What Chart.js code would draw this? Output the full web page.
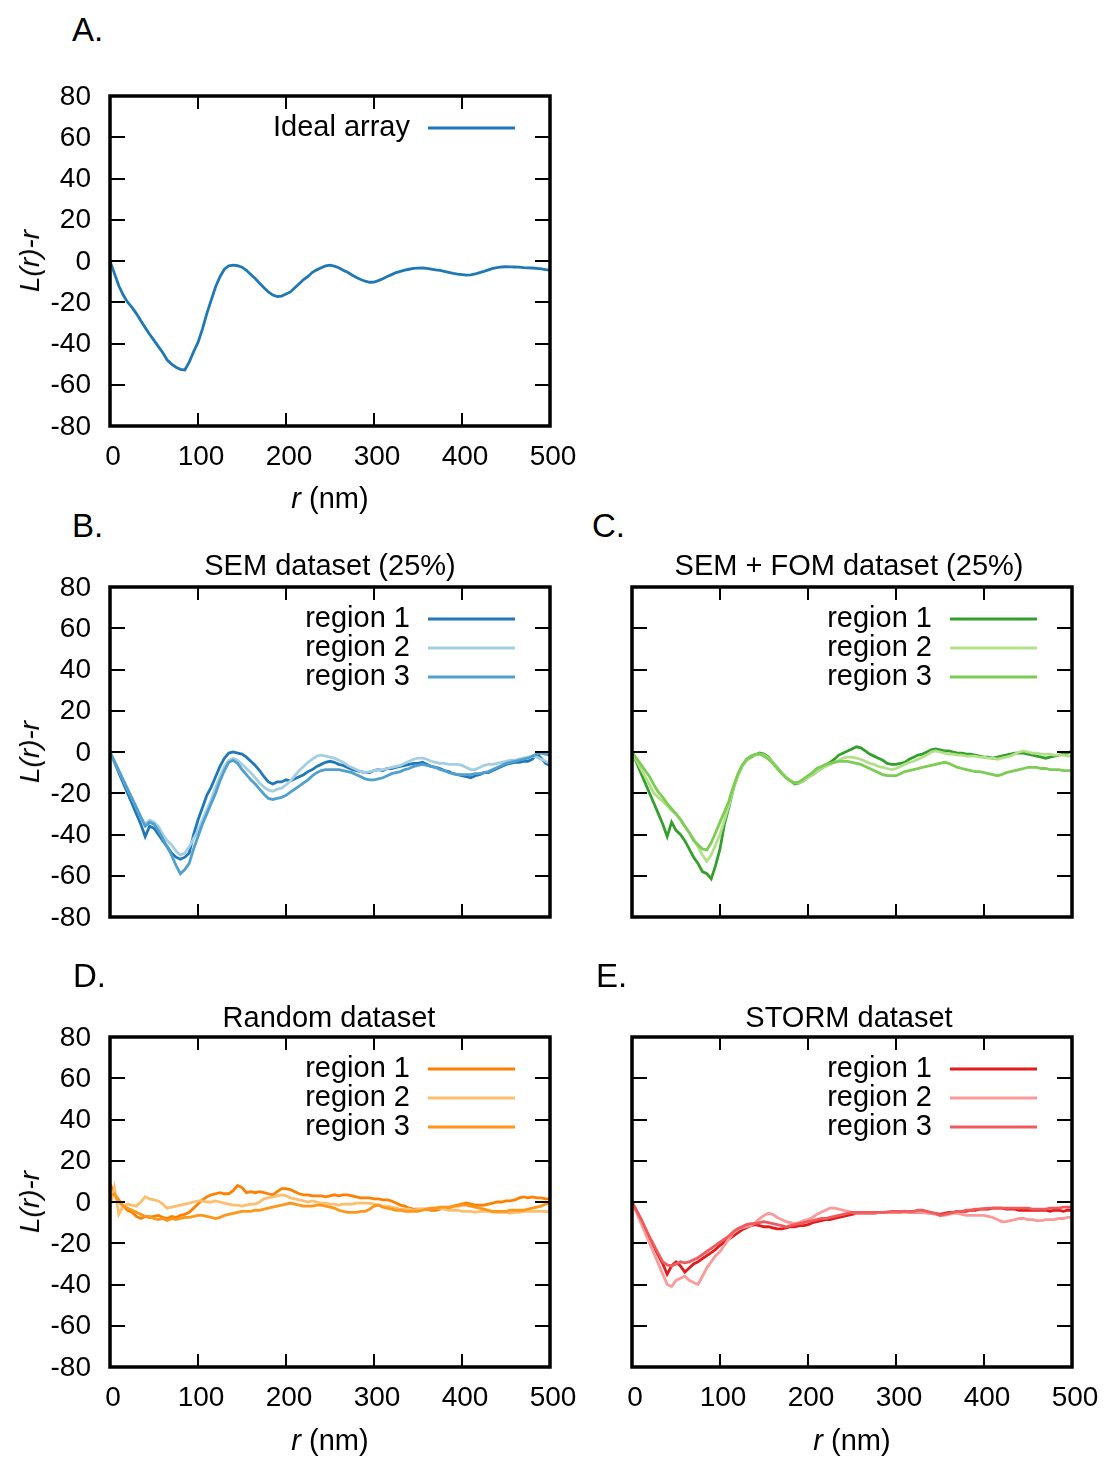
<!DOCTYPE html>
<html>
<head>
<meta charset="utf-8">
<title>L(r)-r</title>
<script src="https://cdn.jsdelivr.net/npm/chart.js@4.4.0/dist/chart.umd.min.js"></script>
<style>
    body {
        margin: 0;
        background: #fff;
        width: 1104px;
        height: 1457px;
        position: relative;
        overflow: hidden;
        font-family: 'Liberation Sans', Arial, sans-serif;
        color: #000;
    }
    .panel { position: absolute; width: 580px; height: 410px; }
    .panel canvas { display: block; }
    .txt {
        position: absolute;
        transform: translate(-50%, -50%);
        white-space: nowrap;
        font-size: 29px;
        line-height: 1;
    }
    .letter {
        position: absolute;
        transform: translateY(-50%);
        font-size: 33px;
        line-height: 1;
    }
    .ylab { transform: translate(-50%, -50%) rotate(-90deg); font-style: italic; font-size: 28px; }
</style>
</head>
<body>

<div class="panel" style="left:0;top:76px"><canvas id="chartA" width="580" height="410"></canvas></div>
<div class="panel" style="left:0;top:567px"><canvas id="chartB" width="580" height="410"></canvas></div>
<div class="panel" style="left:522px;top:567px"><canvas id="chartC" width="580" height="410"></canvas></div>
<div class="panel" style="left:0;top:1017px"><canvas id="chartD" width="580" height="410"></canvas></div>
<div class="panel" style="left:522px;top:1017px"><canvas id="chartE" width="580" height="410"></canvas></div>

<div class="letter" style="left:72px;top:29px">A.</div>
<div class="letter" style="left:72px;top:525px">B.</div>
<div class="letter" style="left:592px;top:525px">C.</div>
<div class="letter" style="left:73px;top:975px">D.</div>
<div class="letter" style="left:596px;top:975px">E.</div>

<div class="txt" style="left:330px;top:565px">SEM dataset (25%)</div>
<div class="txt" style="left:849px;top:565px">SEM + FOM dataset (25%)</div>
<div class="txt" style="left:329px;top:1017px">Random dataset</div>
<div class="txt" style="left:849px;top:1017px">STORM dataset</div>

<div class="txt ylab" style="left:30px;top:261px">L(r)-r</div>
<div class="txt ylab" style="left:30px;top:752px">L(r)-r</div>
<div class="txt ylab" style="left:30px;top:1202px">L(r)-r</div>

<div class="txt" style="left:330px;top:498px"><i>r</i> (nm)</div>
<div class="txt" style="left:330px;top:1440px"><i>r</i> (nm)</div>
<div class="txt" style="left:852px;top:1440px"><i>r</i> (nm)</div>

<script>
// distance r (nm), shared by every curve
const rValues = [
    0, 5, 10, 15, 20, 25, 30, 35, 40, 45,
    50, 55, 60, 65, 70, 75, 80, 85, 90, 95,
    100, 105, 110, 115, 120, 125, 130, 135, 140, 145,
    150, 155, 160, 165, 170, 175, 180, 185, 190, 195,
    200, 205, 210, 215, 220, 225, 230, 235, 240, 245,
    250, 255, 260, 265, 270, 275, 280, 285, 290, 295,
    300, 305, 310, 315, 320, 325, 330, 335, 340, 345,
    350, 355, 360, 365, 370, 375, 380, 385, 390, 395,
    400, 405, 410, 415, 420, 425, 430, 435, 440, 445,
    450, 455, 460, 465, 470, 475, 480, 485, 490, 495,
    500
];

const idealArray = [
    0, -6, -12, -16.5, -20, -22.5, -25.5, -29, -32.3, -35.5,
    -38.5, -41.5, -44.5, -48, -50, -51.5, -52.5, -52.8, -49, -44,
    -39.5, -33, -25.5, -19, -12.5, -7.6, -4, -2.3, -2, -2.3,
    -3, -4.5, -6.5, -8.5, -10.8, -13, -15, -16.5, -17.3, -17,
    -16, -15, -13, -11, -9, -7.5, -5.5, -4.3, -3.3, -2.4,
    -2, -2.5, -3.3, -4.5, -5.5, -6.8, -8, -9, -9.8, -10.3,
    -10.2, -9.5, -8.6, -7.5, -6.6, -5.6, -5, -4.4, -4, -3.6,
    -3.5, -3.4, -3.6, -3.9, -4.3, -4.6, -5, -5.5, -6, -6.4,
    -6.6, -6.8, -6.7, -6.3, -5.6, -5, -4.3, -3.6, -3.2, -2.9,
    -2.7, -2.8, -2.9, -3, -3.2, -3.3, -3.4, -3.6, -3.8, -4.2,
    -4.4
];

// SEM dataset (25%)
const semRegion1 = [
    0, -5, -10, -15, -20, -25, -30, -35, -41, -36,
    -37, -40, -43, -46, -49, -51, -52, -51, -49, -40,
    -33, -27, -21, -17, -12, -7, -3, -0.5, 0, -0.5,
    -1, -2.5, -4.5, -6.5, -9, -12, -14.5, -15.5, -14.5, -14.5,
    -13.5, -14, -13, -12, -11, -9.5, -8.5, -7, -6, -5,
    -4.5, -5, -6, -6.5, -7.5, -8.5, -9, -9.5, -10, -10,
    -9, -8.5, -9, -8, -8, -7.5, -7, -6.5, -6, -5.5,
    -5.5, -5, -6, -7, -7.5, -8, -9, -9.5, -10.5, -11,
    -11.5, -12, -12.5, -11.5, -11, -10, -10, -9, -8, -7,
    -6, -5.5, -5, -5, -4.5, -4.5, -3.5, -1, -3, -5.5,
    -6.5
];
const semRegion2 = [
    0, -4.5, -9, -13.5, -18, -22.5, -27, -31.5, -35, -33,
    -34, -36, -40, -43, -45, -48, -50, -49, -46, -42,
    -38, -33, -28, -23, -17, -12, -7, -4, -3, -4,
    -6, -8, -10, -12.5, -15, -17, -18.5, -19, -18, -17.5,
    -16, -14, -11.5, -9, -7, -5, -3.5, -2, -1.5, -2,
    -2.5, -3, -4, -5, -6.5, -7.5, -8.5, -9.5, -10, -9.5,
    -9, -8.5, -8.5, -8, -7.5, -7, -6.5, -5.5, -4.5, -3.5,
    -3, -3, -3.5, -4.5, -5, -5.5, -5.5, -6, -6, -6,
    -6.5, -7.5, -8.5, -8.5, -7.5, -6.5, -6, -6, -5.5, -5,
    -4.5, -4, -4, -3.5, -3, -2.5, -2, -2.5, -3.5, -4.5,
    -5.5
];
const semRegion3 = [
    0, -4.5, -9, -13.5, -18, -22.5, -27, -31.5, -36, -34,
    -35, -38, -42, -46, -50, -55, -59, -57, -54, -47,
    -41, -35, -30, -25, -20, -14, -9, -5, -4, -5.5,
    -8.5, -11, -13.5, -15.5, -18, -20.5, -22.5, -23, -22.5, -22,
    -21, -19.5, -18, -16.5, -15, -13.5, -11.5, -10, -9, -8.5,
    -8.5, -8.5, -8.5, -9, -9.5, -10, -11, -12, -13, -13.5,
    -13.5, -13, -12.5, -11.5, -10.5, -10, -9.5, -8.5, -8, -7,
    -6.5, -6, -6.5, -7, -7.5, -8.5, -9, -10, -10.5, -11,
    -11, -11, -11, -10.5, -10.5, -10, -9.5, -8.5, -7.5, -6.5,
    -5.5, -5, -4.5, -4, -3.5, -3, -2, -1, -0.5, -1,
    -1.5
];

// SEM + FOM dataset (25%)
const fomRegion1 = [
    0, -5, -10, -15, -20, -25, -30, -35, -41, -34,
    -38, -40, -43, -47, -51, -54, -58, -59, -61.5, -55,
    -47, -35, -27, -18, -11.5, -7, -4, -2.5, -1.5, -0.5,
    -1, -2.5, -5, -7.5, -10, -12.5, -14, -15.5, -15, -14,
    -12, -11, -9.5, -8, -6.5, -5, -3.5, -1.5, -0.5, 0.5,
    1.5, 2.5, 2, 0.5, -1, -2, -3, -4, -5.5, -6,
    -6, -5.5, -5, -3.5, -2.5, -1.5, -1, 0, 1, 1.5,
    1, 0.5, 0.5, 0, -0.5, -0.5, -1, -1, -1.5, -2,
    -2.5, -2.5, -3, -2.5, -2, -1.5, -1, -0.5, -0.5, -0.5,
    -1, -1.5, -2, -2.5, -3, -2.5, -2, -1.5, -1, -0.5,
    0.5
];
const fomRegion2 = [
    0, -4, -8, -12, -16, -20, -22, -24, -26, -28.5,
    -30, -33, -36, -39, -42, -46, -50, -53, -50, -45,
    -40, -33, -26, -18, -12, -7, -4, -2, -1.5, -1,
    -1.5, -3, -5, -7.5, -10, -12, -14, -15, -15, -14,
    -12.5, -11, -9.5, -8, -7, -6, -5, -4, -3, -2.5,
    -2.5, -3, -3.5, -4.5, -5.5, -6, -7, -7.5, -8, -8.5,
    -8, -7, -6, -5, -4.5, -3.5, -2.5, -1.5, 0, 0.5,
    0, -0.5, -1, -1, -1.5, -1.5, -2, -2, -2, -2.5,
    -2.5, -3, -3, -3.5, -3, -2.5, -2, -1, 0, 0.5,
    0, -0.5, -0.5, -1, -1, -1, -1.5, -1.5, -1.5, -2,
    -2
];
const fomRegion3 = [
    0, -3, -6, -9, -12, -16, -19.5, -22, -25, -27.5,
    -30, -32.5, -36, -39, -43, -45, -47, -47.5, -44, -39,
    -34, -29, -24, -17, -11, -6.5, -3.5, -2, -1, -1,
    -2, -3.5, -5.5, -8, -10.5, -12.5, -14, -15, -14.5, -13,
    -11.5, -10, -8, -7, -6, -5.5, -5, -4.5, -4.5, -4.5,
    -5, -5.5, -6, -7, -8, -9, -10, -11, -11.5, -11.5,
    -11.5, -10.5, -9.5, -9, -8.5, -8, -7.5, -7, -6.5, -6,
    -5.5, -5, -5.5, -6.5, -7.5, -8, -8.5, -9, -9.5, -9.5,
    -10, -10.5, -11, -11.5, -11, -10, -9.5, -9, -8.5, -8,
    -7.5, -7.5, -7.5, -8, -8, -8.5, -8.5, -8.5, -9, -9,
    -9
];

// Random dataset
const randomRegion1 = [
    9, 4, 1, -2, -4, -5, -7, -8, -7, -7.5,
    -7, -6.5, -7.5, -8, -7, -7.5, -6.5, -6, -5, -3,
    -1, 1, 2.5, 3.5, 4, 4.5, 4, 4, 5.5, 8,
    7, 4.5, 5, 4.5, 5, 4.5, 4, 3.5, 5, 6.5,
    6.5, 6, 5, 4, 3.5, 3.5, 3, 3, 3, 2.5,
    3, 3.5, 3, 3.5, 3.5, 3, 2.5, 2, 2, 2,
    1.5, 1.5, 1, 1, 0.5, -0.5, -1.5, -2, -3, -3.5,
    -3.5, -3.5, -3.5, -4, -4, -3.5, -3, -3, -2, -1.5,
    -1, -0.5, -1, -1.5, -1.5, -1.5, -1, -0.5, 0, 0,
    0.5, 0.5, 1, 2, 2.5, 2, 2.5, 2, 2, 1.5,
    1.5
];
const randomRegion2 = [
    -3, 7, -6, -2, -1, -1.5, -2, 0, 2.5, 1.5,
    1, 0.5, -1, -3, -2.5, -2, -1.5, -1, -0.5, 0,
    0.5, 0.5, 0, 0, 0.5, 0, -0.5, -1, -1.5, -1.5,
    -2, -1.5, -1, -1, 0, 1.5, 2, 2.5, 3, 3.5,
    3, 2, 1.5, 1, 0.5, 0, 0.5, 0, -0.5, -0.5,
    -1, -1, -1.5, -1, -1, -1, -0.5, -0.5, -0.5, -0.5,
    -1, -1.5, -2, -2, -2.5, -3, -3.5, -3.5, -3.5, -4,
    -3.5, -3.5, -3.5, -3, -3, -3, -3.5, -4, -4, -4,
    -4.5, -4.5, -4.5, -5, -4.5, -4.5, -4.5, -5, -5, -5,
    -5, -5.5, -5, -5, -4.5, -4.5, -4.5, -4.5, -4.5, -4.5,
    -5
];
const randomRegion3 = [
    3, 4, 0, -2, -3, -4, -5, -6, -7, -7,
    -8, -8.5, -8, -9, -8, -8.5, -8, -7.5, -7.5, -7,
    -6.5, -6.5, -7, -7.5, -8, -7.5, -6.5, -6, -5.5, -5,
    -4.5, -4.5, -4.5, -4, -4, -3.5, -3, -2.5, -2, -1.5,
    -1, -0.5, -1, -1.5, -2, -2, -2, -1.5, -1.5, -2,
    -2.5, -3, -4, -4.5, -5, -5, -5, -4.5, -4.5, -3.5,
    -2, -1.5, -2.5, -3, -3.5, -4, -4, -4.5, -4.5, -4.5,
    -4.5, -4, -3.5, -3, -3, -2.5, -2.5, -2.5, -2, -2,
    -1.5, -1.5, -2, -2.5, -3, -3.5, -4, -4.5, -4.5, -4.5,
    -4.5, -4, -4, -4, -4, -3.5, -3, -2.5, -2, -1,
    -0.5
];

// STORM dataset
const stormRegion1 = [
    0, -4.3, -8.6, -13, -17.3, -21.6, -26, -30, -35, -31,
    -29, -31, -34, -32, -30, -29, -27.5, -26, -24.5, -23,
    -21, -19.5, -18, -16.5, -15, -13.5, -12.5, -11.5, -11, -11.5,
    -12, -12, -12.5, -13, -13, -12.5, -12, -12, -11.5, -11.5,
    -11, -10, -9.5, -9, -8.5, -8.5, -8, -7.5, -7, -6.5,
    -6, -5.5, -5.5, -5.5, -5.5, -5.5, -5, -5, -5, -5,
    -5, -5, -4.5, -5, -5, -5, -5, -5, -5.5, -5.5,
    -6, -5.5, -5, -5, -4.5, -4.5, -4.5, -4, -4, -3.5,
    -3.5, -3.5, -3, -3, -3, -3.5, -3.5, -3.5, -4, -4,
    -4, -4, -4, -4, -4, -4.5, -4, -4, -4.5, -4,
    -4
];
const stormRegion2 = [
    0, -5, -10, -15, -20, -25, -30, -35, -40, -41,
    -38, -37, -36, -38, -39, -40, -36, -32, -29, -26,
    -24, -21, -18, -15, -13.5, -12.5, -12, -11.5, -10, -8,
    -6.5, -5.5, -6, -7.5, -8.5, -9.5, -10, -10.5, -10, -9,
    -8.5, -7.5, -6, -5, -4, -3, -3, -3.5, -4, -4.5,
    -5, -5.5, -5.5, -5.5, -5.5, -5.5, -5, -5, -5, -5,
    -5, -5, -5, -5, -5, -5, -5, -5.5, -5.5, -6,
    -6.5, -6.5, -6, -5.5, -5.5, -6, -6.5, -6.5, -6.5, -6.5,
    -6.5, -7, -7.5, -8.5, -9.5, -9.5, -9, -8.5, -8, -8,
    -8.5, -8.5, -9, -9, -8.5, -8.5, -8.5, -8, -8, -7.5,
    -7.5
];
const stormRegion3 = [
    0, -4, -8, -12.5, -17, -21, -25, -29, -30.5, -31,
    -30, -29, -29.5, -29, -28, -27, -25.5, -24, -22.5, -21,
    -19.5, -18, -16.5, -14.5, -13, -12, -11, -10.5, -10.5, -10,
    -9.5, -10, -10.5, -11, -11.5, -12, -11.5, -11, -10.5, -10,
    -9.5, -9, -8.5, -8, -8, -7.5, -7, -6.5, -6, -5.5,
    -5, -5, -5, -5, -5, -5, -5, -5, -4.8, -4.5,
    -4.5, -4.5, -4.5, -4.5, -4.5, -4, -4, -4.5, -5, -5.5,
    -6.5, -6, -5.5, -5, -4.5, -4.5, -4, -4, -3.5, -3.5,
    -3.2, -3, -3, -3, -3, -3, -3, -3, -3, -3,
    -3, -3.5, -3.5, -3.5, -3.5, -3, -3, -3, -2.5, -2.5,
    -2.5
];

const regionLabels = ['region 1', 'region 2', 'region 3'];

const fontFamily = "'Liberation Sans', Arial, sans-serif";
Chart.defaults.font.family = fontFamily;
Chart.defaults.font.size = 28;
Chart.defaults.color = '#000';

// gnuplot-style frame: thick border, inward ticks on all four sides,
// tick labels placed from the scales, key in the top right corner
const frameAndKey = {
    id: 'frameAndKey',
    afterDraw(chart, args, opts) {
        const { ctx, chartArea: a, scales: { x, y } } = chart;
        ctx.save();
        ctx.strokeStyle = '#000';
        ctx.lineWidth = 2;
        ctx.beginPath();
        x.ticks.forEach(t => {
            if (t.value <= x.min || t.value >= x.max) return;
            const px = Math.round(x.getPixelForValue(t.value));
            ctx.moveTo(px, a.bottom);
            ctx.lineTo(px, a.bottom - 13);
            ctx.moveTo(px, a.top);
            ctx.lineTo(px, a.top + 13);
        });
        y.ticks.forEach(t => {
            if (t.value <= y.min || t.value >= y.max) return;
            const py = Math.round(y.getPixelForValue(t.value));
            ctx.moveTo(a.left, py);
            ctx.lineTo(a.left + 15, py);
            ctx.moveTo(a.right, py);
            ctx.lineTo(a.right - 15, py);
        });
        ctx.stroke();

        ctx.lineWidth = 3.5;
        ctx.strokeRect(a.left, a.top, a.right - a.left, a.bottom - a.top);

        ctx.font = '28px ' + fontFamily;
        ctx.fillStyle = '#000';
        ctx.textBaseline = 'middle';
        if (opts.yLabels) {
            ctx.textAlign = 'right';
            y.ticks.forEach(t => {
                ctx.fillText(String(t.value), a.left - 19, y.getPixelForValue(t.value) + 1);
            });
        }
        if (opts.xLabels) {
            ctx.textAlign = 'center';
            x.ticks.forEach(t => {
                ctx.fillText(String(t.value), x.getPixelForValue(t.value) + 3, a.bottom + 31);
            });
        }

        ctx.font = '29px ' + fontFamily;
        ctx.textAlign = 'right';
        chart.data.datasets.forEach((ds, i) => {
            const ky = a.top + 32 + i * 29;
            ctx.fillStyle = '#000';
            ctx.fillText(ds.label, a.right - 140, ky);
            ctx.strokeStyle = ds.borderColor;
            ctx.lineWidth = 3;
            ctx.beginPath();
            ctx.moveTo(a.right - 122, ky);
            ctx.lineTo(a.right - 35, ky);
            ctx.stroke();
        });
        ctx.restore();
    }
};

function makePanel(canvasId, labels, seriesList, colorList, showX, showY) {
    const datasets = seriesList.map((values, i) => ({
        label: labels[i],
        data: rValues.map((r, k) => ({ x: r, y: values[k] })),
        borderColor: colorList[i],
        borderWidth: 2.8,
        pointRadius: 0,
        tension: 0,
        order: seriesList.length - i
    }));

    return new Chart(document.getElementById(canvasId), {
        type: 'line',
        data: { datasets: datasets },
        options: {
            responsive: false,
            animation: false,
            layout: { padding: { top: 20, right: 30, left: 0, bottom: 0 } },
            plugins: {
                legend: { display: false },
                tooltip: { enabled: false },
                frameAndKey: { xLabels: showX, yLabels: showY }
            },
            scales: {
                x: {
                    type: 'linear',
                    min: 0,
                    max: 500,
                    ticks: { stepSize: 100, display: false },
                    grid: { display: false, drawTicks: false },
                    border: { display: false },
                    afterFit(scale) { scale.height = 60; }
                },
                y: {
                    min: -80,
                    max: 80,
                    ticks: { stepSize: 20, display: false },
                    grid: { display: false, drawTicks: false },
                    border: { display: false },
                    afterFit(scale) { scale.width = 110; }
                }
            }
        },
        plugins: [frameAndKey]
    });
}

makePanel('chartA', ['Ideal array'], [idealArray], ['#1f78b4'], true, true);
makePanel('chartB', regionLabels, [semRegion1, semRegion2, semRegion3],
    ['#2178b8', '#a6cee3', '#4fa0cf'], false, true);
makePanel('chartC', regionLabels, [fomRegion1, fomRegion2, fomRegion3],
    ['#33a02c', '#b2df8a', '#7dcd55'], false, false);
makePanel('chartD', regionLabels, [randomRegion1, randomRegion2, randomRegion3],
    ['#ff7f00', '#fdbf6f', '#fe961a'], true, true);
makePanel('chartE', regionLabels, [stormRegion1, stormRegion2, stormRegion3],
    ['#e31a1c', '#fb9a99', '#f05a5c'], true, false);
</script>
</body>
</html>
